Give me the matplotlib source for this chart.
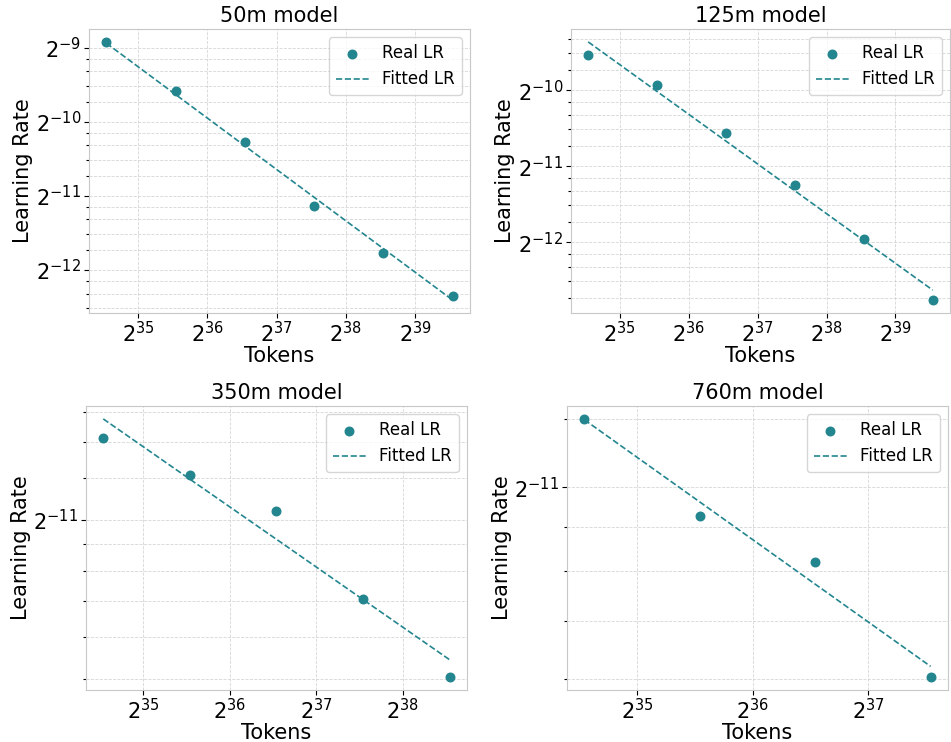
"""Learning-rate scaling fits for four model sizes (log2-log2 axes)."""

import matplotlib

matplotlib.use("Agg")
import matplotlib.pyplot as plt
from matplotlib.ticker import FixedLocator, LogLocator, NullFormatter

TEAL = "#23868f"

MODELS = ["50m", "125m", "350m", "760m"]

TOKENS = [25e9, 50e9, 100e9, 200e9, 400e9, 800e9]

# real (swept) learning rates
REAL_LR_50M = [0.002060, 0.0013047, 0.0008083, 0.0004443, 0.0002850, 0.0001909]
REAL_LR_125M = [0.0013452, 0.0010251, 0.0006608, 0.0004123, 0.0002510, 0.0001442]
REAL_LR_350M = [0.0006981, 0.0005925, 0.0005080, 0.0003455, 0.0002458]
REAL_LR_760M = [0.0005859, 0.0004527, 0.0004005, 0.0002946]

# fitted power-law learning rates at the same token counts
FIT_LR_50M = [0.002036, 0.0012586, 0.0007780, 0.0004809, 0.0002973, 0.0001837]
FIT_LR_125M = [0.0015186, 0.0009658, 0.0006143, 0.0003904, 0.0002482, 0.0001579]
FIT_LR_350M = [0.0007572, 0.0005823, 0.0004481, 0.0003446, 0.0002651]
FIT_LR_760M = [0.0005847, 0.0004697, 0.0003773, 0.0003031]

# labelled powers of two on each y axis
Y_EXPONENTS = [[-9, -10, -11, -12], [-10, -11, -12], [-11], [-11]]

# axes boxes in figure fractions: left, bottom, width, height
AX_BOXES = [
    (0.0936, 0.5782, 0.4006, 0.3827),
    (0.6004, 0.5782, 0.3985, 0.3827),
    (0.0904, 0.0701, 0.4006, 0.3827),
    (0.5962, 0.0701, 0.4006, 0.3827),
]


def draw_panel(ax, model, real, fit, exps):
    n = len(real)
    x = TOKENS[:n]
    ax.scatter(x, real, s=38, color=TEAL, label="Real LR", zorder=3)
    ax.plot(x, fit, linestyle="--", color=TEAL, linewidth=1.2, label="Fitted LR")
    ax.set_xscale("log", base=2)
    ax.set_yscale("log", base=2)
    ax.yaxis.set_major_locator(FixedLocator([2.0**e for e in exps]))
    ax.yaxis.set_minor_locator(
        LogLocator(base=2, subs=[1.0, 1.2, 1.4, 1.6, 1.8], numticks=60)
    )
    ax.yaxis.set_minor_formatter(NullFormatter())
    ax.xaxis.set_minor_formatter(NullFormatter())
    ax.set_title(f"{model} model", fontsize=15, pad=5)
    ax.set_xlabel("Tokens", fontsize=15, labelpad=0)
    ax.set_ylabel("Learning Rate", fontsize=15, labelpad=2)
    ax.tick_params(axis="both", which="major", labelsize=15, length=3.5, width=0.8,
                   pad=2)
    ax.tick_params(axis="both", which="minor", length=2, width=0.8)
    ax.grid(True, which="both", linestyle="--", linewidth=0.6, color="#cccccc",
            alpha=0.8)
    ax.set_axisbelow(True)
    for spine in ax.spines.values():
        spine.set_color("#c8c8c8")
    ax.legend(fontsize=12, loc="upper right")


def main():
    fig = plt.figure(figsize=(9.51, 7.42), dpi=100)
    reals = [REAL_LR_50M, REAL_LR_125M, REAL_LR_350M, REAL_LR_760M]
    fits = [FIT_LR_50M, FIT_LR_125M, FIT_LR_350M, FIT_LR_760M]
    for box, model, real, fit, exps in zip(AX_BOXES, MODELS, reals, fits,
                                           Y_EXPONENTS):
        ax = fig.add_axes(box)
        draw_panel(ax, model, real, fit, exps)
    fig.savefig("out.png", dpi=100)
    plt.close(fig)


if __name__ == "__main__":
    main()
